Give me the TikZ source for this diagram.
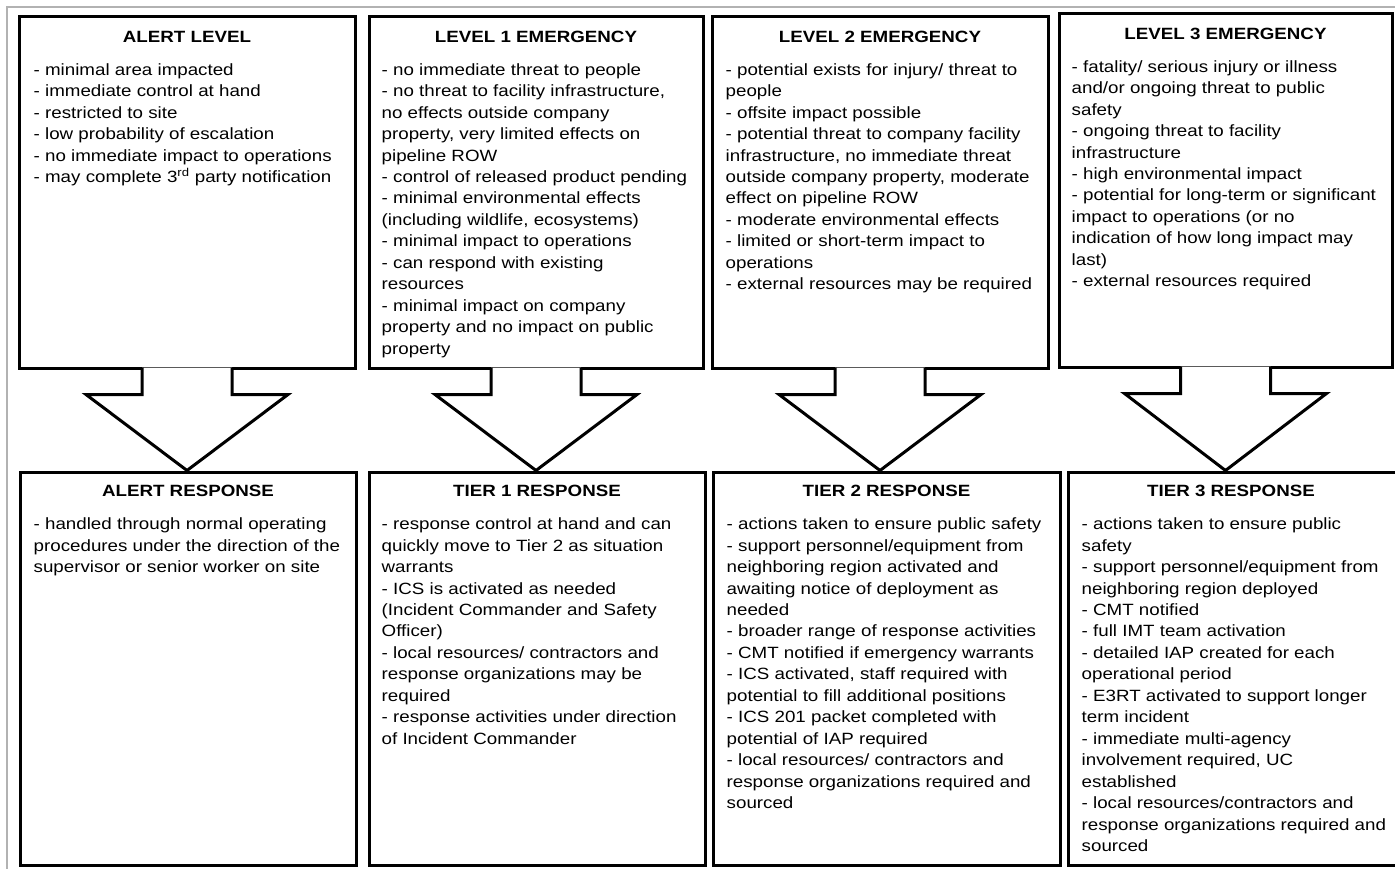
\documentclass[tikz,border=0pt]{standalone}
\usepackage{fontspec}
\setmainfont{Liberation Sans}[FakeStretch=1.15]
\usepackage{tikz}
\usetikzlibrary{calc, positioning}

\newcommand{\boxFont}{\fontsize{16.3}{21.45}\selectfont}

\begin{document}
\begin{tikzpicture}[x=1pt, y=-1pt,
		box/.style={draw, line width=3pt, inner sep=0pt},
		boxtitle/.style={anchor=base, inner sep=0pt, font=\boxFont\bfseries},
		boxtext/.style={anchor=north west, align=left, inner sep=0pt, font=\boxFont},
		blockarrow/.style={draw, line width=3pt, fill=white, line join=miter}
	]
	\useasboundingbox (0,0) rectangle (1395,869);
	\draw [gray!60, line width=1.6pt] (7,869) -- (7,7) -- (1395,7);

	\newcommand{\drawLevelArrow}[2]
	{
		\draw [blockarrow] ($ (#1.south) + (-45,-2) $) -- ++(0,27) -- ++(-56,0) -- (#1.south |- #2.north) -- ($ (#1.south) + (101,25) $) -- ++(-56,0) -- ++(0,-27)
	}

	\begin{scope}
		\node [box, minimum width=336pt, minimum height=351pt] (lvlAlert) at (187,192.5) {};
		\node [box, minimum width=334pt, minimum height=351pt] (lvlOne) at (536,192.5) {};
		\node [box, minimum width=336pt, minimum height=351pt] (lvlTwo) at (880,192.5) {};
		\node [box, minimum width=333pt, minimum height=353pt] (lvlThree) at (1225.5,190.5) {};

		\node [box, minimum width=336pt, minimum height=393pt] (respAlert) at (188,668.5) {};
		\node [box, minimum width=336pt, minimum height=393pt] (tierOne) at (537,668.5) {};
		\node [box, minimum width=347pt, minimum height=393pt] (tierTwo) at (886.5,668.5) {};
		\node [box, minimum width=334pt, minimum height=393pt] (tierThree) at (1235,668.5) {};
	\end{scope}

	\drawLevelArrow{lvlAlert}{respAlert};
	\drawLevelArrow{lvlOne}{tierOne};
	\drawLevelArrow{lvlTwo}{tierTwo};
	\drawLevelArrow{lvlThree}{tierThree};

	\begin{scope}
		\node [boxtitle] (lvlAlertTitle) at ($ (lvlAlert.north) + (0,27) $) {ALERT LEVEL};
		\node [boxtitle] (lvlOneTitle) at ($ (lvlOne.north) + (0,27) $) {LEVEL 1 EMERGENCY};
		\node [boxtitle] (lvlTwoTitle) at ($ (lvlTwo.north) + (0,27) $) {LEVEL 2 EMERGENCY};
		\node [boxtitle] (lvlThreeTitle) at ($ (lvlThree.north) + (0,27) $) {LEVEL 3 EMERGENCY};

		\node [boxtitle] (respAlertTitle) at ($ (respAlert.north) + (0,26) $) {ALERT RESPONSE};
		\node [boxtitle] (tierOneTitle) at ($ (tierOne.north) + (0,26) $) {TIER 1 RESPONSE};
		\node [boxtitle] (tierTwoTitle) at ($ (tierTwo.north) + (0,26) $) {TIER 2 RESPONSE};
		\node [boxtitle] (tierThreeTitle) at ($ (tierThree.north) + (-4,26) $) {TIER 3 RESPONSE};
	\end{scope}

	\begin{scope}
		\node [boxtext] (lvlAlertText) at ($ (lvlAlert.north west) + (16,44.5) $) {\strut- minimal area impacted\\
			- immediate control at hand\\
			- restricted to site\\
			- low probability of escalation\\
			- no immediate impact to operations\\
			- may complete 3\textsuperscript{rd} party notification};

		\node [boxtext] (lvlOneText) at ($ (lvlOne.north west) + (14,44.5) $) {\strut- no immediate threat to people\\
			- no threat to facility infrastructure,\\
			no effects outside company\\
			property, very limited effects on\\
			pipeline ROW\\
			- control of released product pending\\
			- minimal environmental effects\\
			(including wildlife, ecosystems)\\
			- minimal impact to operations\\
			- can respond with existing\\
			resources\\
			- minimal impact on company\\
			property and no impact on public\\
			property};

		\node [boxtext] (lvlTwoText) at ($ (lvlTwo.north west) + (15,44.5) $) {\strut- potential exists for injury/ threat to\\
			people\\
			- offsite impact possible\\
			- potential threat to company facility\\
			infrastructure, no immediate threat\\
			outside company property, moderate\\
			effect on pipeline ROW\\
			- moderate environmental effects\\
			- limited or short-term impact to\\
			operations\\
			- external resources may be required};

		\node [boxtext] (lvlThreeText) at ($ (lvlThree.north west) + (14,44.5) $) {\strut- fatality/ serious injury or illness\\
			and/or ongoing threat to public\\
			safety\\
			- ongoing threat to facility\\
			infrastructure\\
			- high environmental impact\\
			- potential for long-term or significant\\
			impact to operations (or no\\
			indication of how long impact may\\
			last)\\
			- external resources required};

		\node [boxtext] (respAlertText) at ($ (respAlert.north west) + (15,44) $) {\strut- handled through normal operating\\
			procedures under the direction of the\\
			supervisor or senior worker on site};

		\node [boxtext] (tierOneText) at ($ (tierOne.north west) + (14,44) $) {\strut- response control at hand and can\\
			quickly move to Tier 2 as situation\\
			warrants\\
			- ICS is activated as needed\\
			(Incident Commander and Safety\\
			Officer)\\
			- local resources/ contractors and\\
			response organizations may be\\
			required\\
			- response activities under direction\\
			of Incident Commander};

		\node [boxtext] (tierTwoText) at ($ (tierTwo.north west) + (15,44) $) {\strut- actions taken to ensure public safety\\
			- support personnel/equipment from\\
			neighboring region activated and\\
			awaiting notice of deployment as\\
			needed\\
			- broader range of response activities\\
			- CMT notified if emergency warrants\\
			- ICS activated, staff required with\\
			potential to fill additional positions\\
			- ICS 201 packet completed with\\
			potential of IAP required\\
			- local resources/ contractors and\\
			response organizations required and\\
			sourced};

		\node [boxtext] (tierThreeText) at ($ (tierThree.north west) + (15,44) $) {\strut- actions taken to ensure public\\
			safety\\
			- support personnel/equipment from\\
			neighboring region deployed\\
			- CMT notified\\
			- full IMT team activation\\
			- detailed IAP created for each\\
			operational period\\
			- E3RT activated to support longer\\
			term incident\\
			- immediate multi-agency\\
			involvement required, UC\\
			established\\
			- local resources/contractors and\\
			response organizations required and\\
			sourced};
	\end{scope}
\end{tikzpicture}
\end{document}
